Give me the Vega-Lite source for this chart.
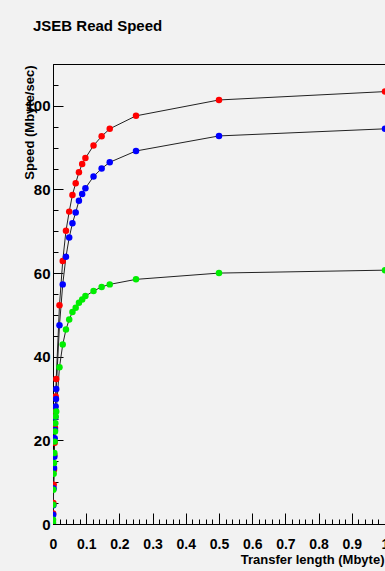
{
  "$schema": "https://vega.github.io/schema/vega-lite/v6.json",
  "autosize": {"type": "none"},
  "padding": {"left": 53, "top": 64, "right": 0, "bottom": 47},
  "width": 332,
  "height": 460,
  "background": "#f2f2f2",
  "title": {
    "text": "JSEB Read Speed",
    "anchor": "start",
    "frame": "group",
    "font": "Liberation Sans",
    "fontSize": 15,
    "fontWeight": "bold",
    "color": "black",
    "baseline": "alphabetic",
    "offset": 18,
    "dx": -20
  },
  "config": {
    "font": "Liberation Sans",
    "view": {"stroke": "black", "strokeWidth": 1, "fill": "#f2f2f2"},
    "axis": {
      "grid": false,
      "domainColor": "black",
      "tickColor": "black",
      "labelColor": "black",
      "titleColor": "black",
      "labelFont": "Liberation Sans",
      "titleFont": "Liberation Sans",
      "labelFontWeight": "bold",
      "titleFontWeight": "bold"
    }
  },
  "data": {
    "values": [
      {"series": "r", "x": 0.0005, "y": 2.5},
      {"series": "r", "x": 0.001, "y": 5.0},
      {"series": "r", "x": 0.002, "y": 9.4},
      {"series": "r", "x": 0.003, "y": 13.0},
      {"series": "r", "x": 0.004, "y": 16.5},
      {"series": "r", "x": 0.005, "y": 19.4},
      {"series": "r", "x": 0.006, "y": 23.0},
      {"series": "r", "x": 0.007, "y": 27.0},
      {"series": "r", "x": 0.008, "y": 30.5},
      {"series": "r", "x": 0.00977, "y": 34.7},
      {"series": "r", "x": 0.01953, "y": 52.3},
      {"series": "r", "x": 0.0293, "y": 62.9},
      {"series": "r", "x": 0.03906, "y": 70.1},
      {"series": "r", "x": 0.04883, "y": 74.7},
      {"series": "r", "x": 0.05859, "y": 78.7},
      {"series": "r", "x": 0.06836, "y": 81.5},
      {"series": "r", "x": 0.07813, "y": 84.1},
      {"series": "r", "x": 0.08789, "y": 86.1},
      {"series": "r", "x": 0.09766, "y": 87.5},
      {"series": "r", "x": 0.1221, "y": 90.5},
      {"series": "r", "x": 0.1465, "y": 92.7},
      {"series": "r", "x": 0.1709, "y": 94.5},
      {"series": "r", "x": 0.25, "y": 97.6},
      {"series": "r", "x": 0.5, "y": 101.4},
      {"series": "r", "x": 1.0, "y": 103.4},
      {"series": "b", "x": 0.0005, "y": 2.2},
      {"series": "b", "x": 0.001, "y": 4.5},
      {"series": "b", "x": 0.002, "y": 8.5},
      {"series": "b", "x": 0.003, "y": 13.4},
      {"series": "b", "x": 0.004, "y": 16.1},
      {"series": "b", "x": 0.005, "y": 20.5},
      {"series": "b", "x": 0.006, "y": 22.5},
      {"series": "b", "x": 0.007, "y": 25.5},
      {"series": "b", "x": 0.008, "y": 28.1},
      {"series": "b", "x": 0.009, "y": 29.9},
      {"series": "b", "x": 0.00977, "y": 32.3},
      {"series": "b", "x": 0.01953, "y": 47.5},
      {"series": "b", "x": 0.0293, "y": 57.3},
      {"series": "b", "x": 0.03906, "y": 63.9},
      {"series": "b", "x": 0.04883, "y": 68.5},
      {"series": "b", "x": 0.05859, "y": 71.9},
      {"series": "b", "x": 0.06836, "y": 74.5},
      {"series": "b", "x": 0.07813, "y": 77.3},
      {"series": "b", "x": 0.08789, "y": 78.9},
      {"series": "b", "x": 0.09766, "y": 80.3},
      {"series": "b", "x": 0.1221, "y": 83.1},
      {"series": "b", "x": 0.1465, "y": 85.0},
      {"series": "b", "x": 0.1709, "y": 86.5},
      {"series": "b", "x": 0.25, "y": 89.2},
      {"series": "b", "x": 0.5, "y": 92.8},
      {"series": "b", "x": 1.0, "y": 94.5},
      {"series": "g", "x": 0.0, "y": 0.3},
      {"series": "g", "x": 0.0002, "y": 1.0},
      {"series": "g", "x": 0.0005, "y": 4.6},
      {"series": "g", "x": 0.001, "y": 8.2},
      {"series": "g", "x": 0.002, "y": 12.0},
      {"series": "g", "x": 0.003, "y": 14.6},
      {"series": "g", "x": 0.004, "y": 17.0},
      {"series": "g", "x": 0.005, "y": 19.7},
      {"series": "g", "x": 0.006, "y": 22.1},
      {"series": "g", "x": 0.007, "y": 24.1},
      {"series": "g", "x": 0.008, "y": 25.7},
      {"series": "g", "x": 0.00977, "y": 26.9},
      {"series": "g", "x": 0.01953, "y": 37.5},
      {"series": "g", "x": 0.0293, "y": 42.9},
      {"series": "g", "x": 0.03906, "y": 46.5},
      {"series": "g", "x": 0.04883, "y": 48.9},
      {"series": "g", "x": 0.05859, "y": 50.7},
      {"series": "g", "x": 0.06836, "y": 51.7},
      {"series": "g", "x": 0.07813, "y": 52.9},
      {"series": "g", "x": 0.08789, "y": 53.7},
      {"series": "g", "x": 0.09766, "y": 54.5},
      {"series": "g", "x": 0.1221, "y": 55.7},
      {"series": "g", "x": 0.1465, "y": 56.7},
      {"series": "g", "x": 0.1709, "y": 57.3},
      {"series": "g", "x": 0.25, "y": 58.5},
      {"series": "g", "x": 0.5, "y": 60.0},
      {"series": "g", "x": 1.0, "y": 60.7}
    ]
  },
  "layer": [
    {
      "mark": {"type": "line", "color": "#222222", "strokeWidth": 1, "clip": true},
      "encoding": {
        "x": {
          "field": "x", "type": "quantitative",
          "scale": {"domain": [0, 1], "nice": false, "zero": false},
          "axis": {
            "orient": "bottom",
            "values": [0.02,0.04,0.06,0.08,0.12,0.14,0.16,0.18,0.22,0.24,0.26,0.28,0.32,0.34,0.36,0.38,0.42,0.44,0.46,0.48,0.52,0.54,0.56,0.58,0.62,0.64,0.66,0.68,0.72,0.74,0.76,0.78,0.82,0.84,0.86,0.88,0.92,0.94,0.96,0.98],
            "labels": false, "domain": false, "tickSize": -5, "title": null
          }
        },
        "y": {
          "field": "y", "type": "quantitative",
          "scale": {"domain": [0, 110], "nice": false},
          "axis": {
            "orient": "left",
            "values": [5,10,15,25,30,35,45,50,55,65,70,75,85,90,95,105,110],
            "labels": false, "domain": false, "tickSize": -5, "title": null
          }
        },
        "detail": {"field": "series"},
        "order": {"field": "x"}
      }
    },
    {
      "mark": {"type": "circle", "size": 42, "opacity": 1, "clip": true},
      "encoding": {
        "x": {
          "field": "x", "type": "quantitative",
          "axis": {
            "orient": "bottom",
            "values": [0,0.1,0.2,0.3,0.4,0.5,0.6,0.7,0.8,0.9,1],
            "format": "~g",
            "tickSize": -11,
            "labelPadding": 24,
            "labelFontSize": 14,
            "labelFlush": false,
            "title": "Transfer length (Mbyte)",
            "titleFontSize": 13,
            "titleAlign": "right",
            "titleBaseline": "alphabetic",
            "titleX": 331,
            "titleY": 39
          }
        },
        "y": {
          "field": "y", "type": "quantitative",
          "axis": {
            "orient": "left",
            "values": [0,20,40,60,80,100],
            "tickSize": -10,
            "labelPadding": 13,
            "labelFontSize": 15,
            "labelFlush": false,
            "title": "Speed (Mbyte/sec)",
            "titleFontSize": 13,
            "titleAngle": -90,
            "titleAlign": "right",
            "titleBaseline": "middle",
            "titleX": -24,
            "titleY": 1
          }
        },
        "color": {
          "field": "series", "type": "nominal",
          "scale": {"domain": ["r", "b", "g"], "range": ["#ff0000", "#0000ff", "#00ee00"]},
          "legend": null
        }
      }
    }
  ],
  "resolve": {"axis": {"x": "independent", "y": "independent"}}
}
